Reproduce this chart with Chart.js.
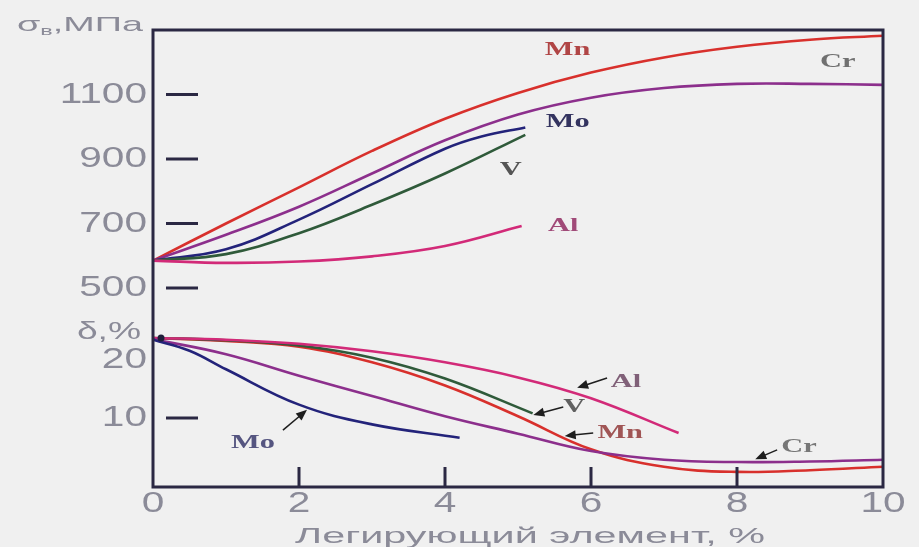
<!DOCTYPE html>
<html lang="ru">
<head>
<meta charset="utf-8">
<title>Влияние легирующих элементов на σв и δ</title>
<script src="https://cdn.jsdelivr.net/npm/chart.js@4.4.1/dist/chart.umd.min.js"></script>
<style>
  html, body { margin: 0; padding: 0; background: #f0f0f0; }
  #box { width: 919px; height: 547px; }
</style>
</head>
<body>
<div id="box"><canvas id="grafico"></canvas></div>
<script>
// Данные (x — легирующий элемент, %)
const xFull = [0, 1, 2, 3, 4, 5, 6, 7, 8, 9, 10];

// Верхняя часть: σв, МПа
const mnStrength = [585, 700, 812, 925, 1025, 1105, 1168, 1215, 1248, 1270, 1282];
const crStrength = [585, 665, 752, 855, 958, 1038, 1090, 1120, 1133, 1133, 1130];
const moStrengthX = [0, 1, 2, 3, 4, 4.5, 5.1];
const moStrength = [585, 620, 712, 822, 932, 970, 998];
const vStrengthX = [0, 1, 2, 3, 4, 5.1];
const vStrength = [585, 605, 670, 758, 855, 975];
const alStrengthX = [0, 1, 2, 3, 4, 5.05];
const alStrength = [585, 578, 582, 598, 630, 692];

// Нижняя часть: δ, %
const crDuct = [23.6, 21.0, 17.3, 13.8, 10.3, 7.3, 4.3, 2.8, 2.4, 2.5, 2.8];
const mnDuct = [23.8, 23.3, 22.3, 19.6, 15.6, 10.3, 4.6, 1.6, 0.7, 1.0, 1.6];
const vDuctX = [0, 1, 2, 3, 4, 5.2];
const vDuct = [23.8, 23.4, 22.5, 20.4, 16.8, 10.8];
const alDuctX = [0, 1, 2, 3, 4, 5, 6, 7.2];
const alDuct = [23.8, 23.5, 22.8, 21.5, 19.6, 17.0, 13.4, 7.4];
const moDuctX = [0, 0.5, 1, 2, 3, 4.2];
const moDuct = [23.5, 21.6, 18.4, 12.3, 8.9, 6.6];

// Подписи осей
const xTicks = [0, 2, 4, 6, 8, 10];
const strengthTicks = [500, 700, 900, 1100];
const ductTicks = [10, 20];
const ductDashes = [10];

const colors = {
    Mn: '#d8302c',
    Cr: '#8c2f8c',
    Mo: '#23237a',
    V: '#2f5a3a',
    Al: '#d22a78'
};
const frameColor = '#2b2843';
const tickTextColor = '#8b8b98';

function pairs(xArr, yArr) {
    return xArr.map((x, i) => ({ x: x, y: yArr[i] }));
}

function serie(name, xArr, yArr, axis) {
    return {
        label: name + (axis === 'ys' ? ' σв' : ' δ'),
        data: pairs(xArr, yArr),
        yAxisID: axis,
        borderColor: colors[name],
        borderWidth: 2.6,
        pointRadius: 0,
        fill: false,
        tension: 0.4
    };
}

// Подписи кривых и стрелки (в координатах данных)
const notes = [
    { text: 'Mn', x: 5.68, y: 1238, axis: 'ys', color: '#b04545' },
    { text: 'Cr', x: 9.38, y: 1200, axis: 'ys', color: '#707070' },
    { text: 'Mo', x: 5.68, y: 1015, axis: 'ys', color: '#33335f' },
    { text: 'V', x: 4.9, y: 866, axis: 'ys', color: '#555555' },
    { text: 'Al', x: 5.62, y: 692, axis: 'ys', color: '#a04a78' },
    { text: 'Mo', x: 1.37, y: 5.7, axis: 'yd', color: '#555580', arrow: [1.78, 7.9, 2.11, 11.4] },
    { text: 'Al', x: 6.48, y: 16.2, axis: 'yd', color: '#806078', arrow: [6.22, 16.9, 5.81, 15.2] },
    { text: 'V', x: 5.77, y: 11.9, axis: 'yd', color: '#606060', arrow: [5.62, 11.9, 5.21, 10.5] },
    { text: 'Mn', x: 6.4, y: 7.4, axis: 'yd', color: '#a05555', arrow: [6.03, 7.4, 5.64, 6.9] },
    { text: 'Cr', x: 8.85, y: 5.0, axis: 'yd', color: '#777777', arrow: [8.55, 4.5, 8.25, 2.9] }
];

function stretchText(c, text, x, y, align, font, color, k) {
    c.save();
    c.font = font;
    c.fillStyle = color;
    c.textBaseline = 'middle';
    c.textAlign = 'left';
    const w = c.measureText(text).width * k;
    const left = align === 'right' ? x - w : align === 'center' ? x - w / 2 : x;
    c.translate(left, y);
    c.scale(k, 1);
    c.fillText(text, 0, 0);
    c.restore();
}

function fitText(c, text, cx, y, font, color, width) {
    c.save();
    c.font = font;
    const k = width / c.measureText(text).width;
    c.restore();
    stretchText(c, text, cx, y, 'center', font, color, k);
}

function arrow(c, x1, y1, x2, y2) {
    const ang = Math.atan2(y2 - y1, x2 - x1);
    c.save();
    c.strokeStyle = '#1e1e1e';
    c.fillStyle = '#1e1e1e';
    c.lineWidth = 1.5;
    c.beginPath();
    c.moveTo(x1, y1);
    c.lineTo(x2 - 6 * Math.cos(ang), y2 - 6 * Math.sin(ang));
    c.stroke();
    c.translate(x2, y2);
    c.rotate(ang);
    c.beginPath();
    c.moveTo(0, 0);
    c.lineTo(-11, -4.5);
    c.lineTo(-11, 4.5);
    c.closePath();
    c.fill();
    c.restore();
}

const oformlenie = {
    id: 'oformlenie',
    afterDatasetsDraw(chart) {
        const c = chart.ctx;
        const a = chart.chartArea;
        const sx = chart.scales.x;
        const ys = chart.scales.ys;
        const yd = chart.scales.yd;

        // рамка
        c.save();
        c.strokeStyle = frameColor;
        c.lineWidth = 3;
        c.strokeRect(a.left, a.top, a.right - a.left, a.bottom - a.top);

        // насечки
        c.beginPath();
        strengthTicks.forEach(v => {
            const y = ys.getPixelForValue(v);
            c.moveTo(a.left + 13, y);
            c.lineTo(a.left + 45, y);
        });
        ductDashes.forEach(v => {
            const y = yd.getPixelForValue(v);
            c.moveTo(a.left + 13, y);
            c.lineTo(a.left + 45, y);
        });
        xTicks.slice(1, -1).forEach(v => {
            const x = sx.getPixelForValue(v);
            c.moveTo(x, a.bottom - 20);
            c.lineTo(x, a.bottom);
        });
        c.stroke();

        // точка в начале кривых δ
        c.fillStyle = '#1e1e3a';
        c.beginPath();
        c.arc(sx.getPixelForValue(0.11), yd.getPixelForValue(23.8), 3.5, 0, Math.PI * 2);
        c.fill();
        c.restore();

        // подписи делений
        const tf = '29px "Liberation Sans", Arial, sans-serif';
        strengthTicks.forEach(v => {
            stretchText(c, String(v), a.left - 6, ys.getPixelForValue(v), 'right', tf, tickTextColor, 1.4);
        });
        ductTicks.forEach(v => {
            stretchText(c, String(v), a.left - 6, yd.getPixelForValue(v), 'right', tf, tickTextColor, 1.4);
        });
        xTicks.forEach(v => {
            stretchText(c, String(v), sx.getPixelForValue(v), a.bottom + 17, 'center', tf, tickTextColor, 1.4);
        });

        // названия осей
        fitText(c, 'Легирующий элемент, %', 530, a.bottom + 50, '22px "Liberation Sans", Arial, sans-serif', tickTextColor, 470);
        stretchText(c, 'δ,%', a.left - 12, yd.getPixelForValue(24.8), 'right', '24px "Liberation Sans", Arial, sans-serif', tickTextColor, 1.55);

        c.save();
        c.fillStyle = tickTextColor;
        c.textBaseline = 'alphabetic';
        c.translate(17, 31);
        c.scale(1.8, 1);
        c.font = '21px "Liberation Sans", Arial, sans-serif';
        c.fillText('σ', 0, 0);
        let w = c.measureText('σ').width;
        c.font = '13px "Liberation Sans", Arial, sans-serif';
        c.fillText('в', w, 4);
        w += c.measureText('в').width;
        c.font = '21px "Liberation Sans", Arial, sans-serif';
        c.fillText(',МПа', w, 0);
        c.restore();

        // подписи кривых
        notes.forEach(n => {
            const sc = n.axis === 'ys' ? ys : yd;
            stretchText(c, n.text, sx.getPixelForValue(n.x), sc.getPixelForValue(n.y), 'center',
                'bold 19px "Liberation Serif", "Times New Roman", serif', n.color, 1.6);
            if (n.arrow) {
                arrow(c, sx.getPixelForValue(n.arrow[0]), sc.getPixelForValue(n.arrow[1]),
                    sx.getPixelForValue(n.arrow[2]), sc.getPixelForValue(n.arrow[3]));
            }
        });
    }
};

const ctx = document.getElementById('grafico').getContext('2d');
const grafico = new Chart(ctx, {
    type: 'line',
    data: {
        datasets: [
            serie('Al', alStrengthX, alStrength, 'ys'),
            serie('V', vStrengthX, vStrength, 'ys'),
            serie('Mo', moStrengthX, moStrength, 'ys'),
            serie('Cr', xFull, crStrength, 'ys'),
            serie('Mn', xFull, mnStrength, 'ys'),
            serie('Mo', moDuctX, moDuct, 'yd'),
            serie('Cr', xFull, crDuct, 'yd'),
            serie('Al', alDuctX, alDuct, 'yd'),
            serie('V', vDuctX, vDuct, 'yd'),
            serie('Mn', xFull, mnDuct, 'yd')
        ]
    },
    options: {
        responsive: true,
        maintainAspectRatio: false,
        animation: false,
        layout: { padding: { left: 153, top: 30, right: 36, bottom: 60 } },
        plugins: {
            legend: { display: false },
            tooltip: { enabled: false }
        },
        scales: {
            x: { type: 'linear', min: 0, max: 10, display: false },
            ys: { type: 'linear', position: 'left', min: -117, max: 1300, display: false },
            yd: { type: 'linear', position: 'left', min: -1.9, max: 76.9, display: false }
        }
    },
    plugins: [oformlenie]
});
</script>
</body>
</html>
